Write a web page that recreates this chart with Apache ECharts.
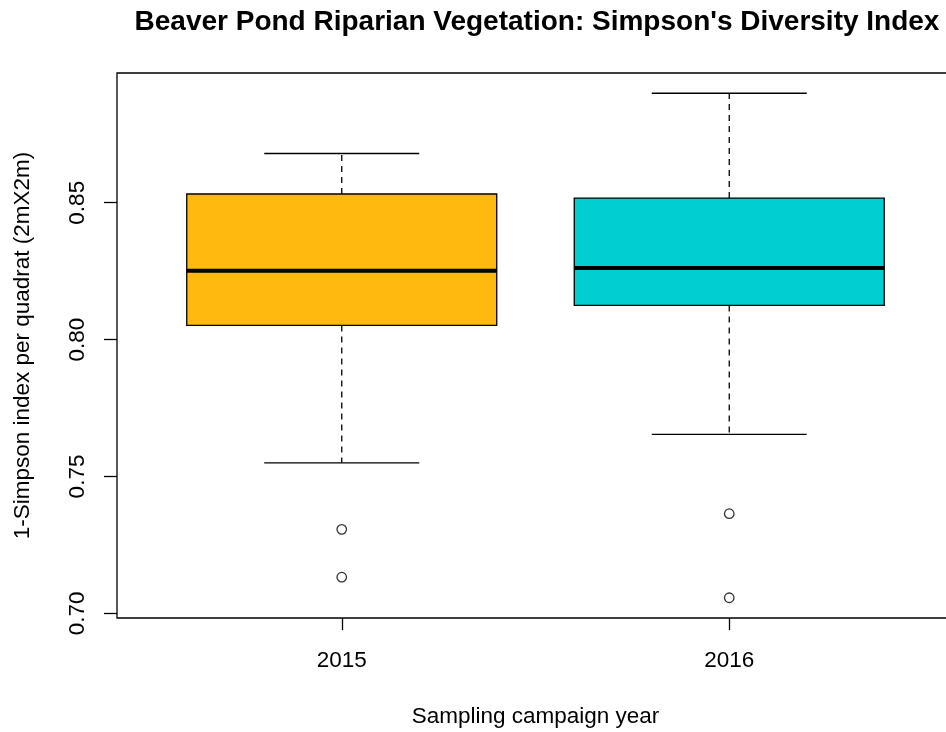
<!DOCTYPE html>
<html>
<head>
<meta charset="utf-8">
<title>Beaver Pond Riparian Vegetation</title>
<script src="https://cdn.jsdelivr.net/npm/echarts@6/dist/echarts.min.js"></script>
<style>
  html, body { margin: 0; padding: 0; background: #fff; }
  #chart { width: 946px; height: 732px; }
</style>
</head>
<body>
<div id="chart"></div>
<script>
// box statistics, one entry per year
const years = ['2015', '2016'];
const whiskerLow = [0.7550, 0.7654];
const lowerQuartile = [0.8052, 0.8125];
const medians = [0.8252, 0.8262];
const upperQuartile = [0.8532, 0.8517];
const whiskerHigh = [0.8680, 0.8900];

// outlying points (year index, value)
const outlierYear = [1, 1, 2, 2];
const outlierValue = [0.7307, 0.7132, 0.7364, 0.7057];

const yTicks = [0.70, 0.75, 0.80, 0.85];
const xTicks = [1, 2];

const boxColors = ['#FFB90F', '#00CED1'];
const font = 'Liberation Sans, Arial, Helvetica, sans-serif';

const boxRows = years.map((y, i) => [i + 1, whiskerLow[i], lowerQuartile[i], medians[i], upperQuartile[i], whiskerHigh[i]]);
const outlierRows = outlierValue.map((v, i) => [outlierYear[i], v]);

// draws one R style box: dashed whiskers, caps, filled box, thick median
function renderBox(params, api) {
  const x = api.value(0);
  const low = api.coord([x, api.value(1)]);
  const q1 = api.coord([x, api.value(2)]);
  const med = api.coord([x, api.value(3)]);
  const q3 = api.coord([x, api.value(4)]);
  const high = api.coord([x, api.value(5)]);
  const boxW = api.size([0.8, 0])[0];
  const capW = api.size([0.4, 0])[0];
  const cx = q1[0];
  const thin = { stroke: '#000', lineWidth: 1.3 };
  const dashed = { stroke: '#000', lineWidth: 1.3, lineDash: [6, 5] };
  return {
    type: 'group',
    children: [
      { type: 'line', shape: { x1: cx, y1: q3[1], x2: cx, y2: high[1] }, style: dashed },
      { type: 'line', shape: { x1: cx, y1: q1[1], x2: cx, y2: low[1] }, style: dashed },
      { type: 'line', shape: { x1: cx - capW / 2, y1: high[1], x2: cx + capW / 2, y2: high[1] }, style: thin },
      { type: 'line', shape: { x1: cx - capW / 2, y1: low[1], x2: cx + capW / 2, y2: low[1] }, style: thin },
      {
        type: 'rect',
        shape: { x: cx - boxW / 2, y: q3[1], width: boxW, height: q1[1] - q3[1] },
        style: { fill: boxColors[params.dataIndex], stroke: '#000', lineWidth: 1.3 }
      },
      { type: 'line', shape: { x1: cx - boxW / 2, y1: med[1], x2: cx + boxW / 2, y2: med[1] }, style: { stroke: '#000', lineWidth: 4 } }
    ]
  };
}

const chart = echarts.init(document.getElementById('chart'));
chart.setOption({
  animation: false,
  backgroundColor: '#fff',
  textStyle: { fontFamily: font },
  title: {
    text: "Beaver Pond Riparian Vegetation: Simpson's Diversity Index",
    left: 537,
    top: 8,
    padding: 0,
    textAlign: 'center',
    textStyle: { fontFamily: font, fontSize: 28, lineHeight: 28, fontWeight: 'bold', color: '#000' }
  },
  grid: {
    left: 117,
    top: 73,
    width: 837,
    height: 545,
    outerBoundsMode: 'none',
    show: true,
    borderColor: '#000',
    borderWidth: 1.3,
    backgroundColor: 'transparent'
  },
  xAxis: {
    type: 'value',
    min: 0.42,
    max: 2.58,
    name: 'Sampling campaign year',
    nameLocation: 'middle',
    nameGap: 88,
    nameTextStyle: { fontFamily: font, fontSize: 22.5, lineHeight: 22.5, color: '#000' },
    axisLine: { show: false },
    splitLine: { show: false },
    axisTick: { show: true, length: 12, customValues: xTicks, lineStyle: { color: '#000', width: 1.3 } },
    axisLabel: {
      customValues: xTicks,
      margin: 32,
      fontFamily: font,
      fontSize: 22.5,
      lineHeight: 22.5,
      color: '#000',
      formatter: v => years[Math.round(v) - 1]
    }
  },
  yAxis: {
    type: 'value',
    min: 0.6983,
    max: 0.8974,
    name: '1-Simpson index per quadrat (2mX2m)',
    nameLocation: 'middle',
    nameRotate: 90,
    nameGap: 83,
    nameTextStyle: { fontFamily: font, fontSize: 22.5, lineHeight: 22.5, color: '#000' },
    axisLine: { show: false },
    splitLine: { show: false },
    axisTick: { show: true, length: 13, customValues: yTicks, lineStyle: { color: '#000', width: 1.3 } },
    axisLabel: {
      customValues: yTicks,
      rotate: 90,
      margin: 28,
      fontFamily: font,
      fontSize: 22.5,
      lineHeight: 22.5,
      color: '#000',
      formatter: v => v.toFixed(2)
    }
  },
  series: [
    {
      type: 'custom',
      renderItem: renderBox,
      data: boxRows,
      encode: { x: 0, y: [1, 2, 3, 4, 5] },
      clip: false
    },
    {
      type: 'scatter',
      data: outlierRows,
      symbol: 'circle',
      symbolSize: 9.5,
      itemStyle: { color: '#fff', borderColor: '#000', borderWidth: 1.3 }
    }
  ]
});
</script>
</body>
</html>
